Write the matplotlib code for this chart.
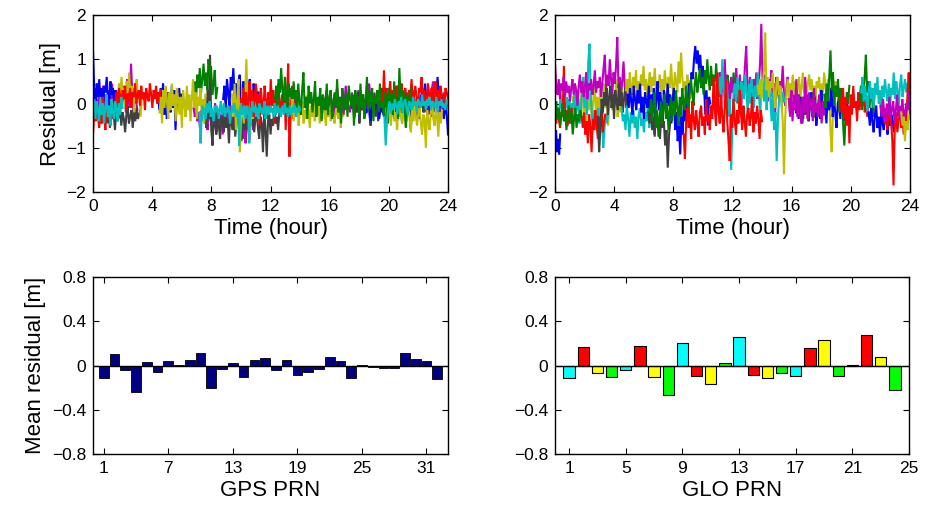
import numpy as np
import matplotlib
matplotlib.use("Agg")
import matplotlib.pyplot as plt

plt.rcParams['font.family'] = ['Liberation Sans', 'DejaVu Sans']

# MATLAB default colour letters
C = {'b': (0, 0, 1), 'g': (0, 0.5, 0), 'r': (1, 0, 0), 'c': (0, 0.75, 0.75),
     'm': (0.75, 0, 0.75), 'y': (0.75, 0.75, 0), 'k': (0.25, 0.25, 0.25)}

# ---------------- GPS residual arcs (hours, colour, residuals in cm) -------------
gps_arc_start = [0.0, 0.8, 1.5, 6.8, 7.4, 6.8, 0.0, 4.4, 8.8, 9.4, 0.0, 4.5, 0.0,
                 10.0, 12.3, 13.4, 15.5, 17.5, 18.5, 19.5, 19.8, 13.7, 7.2, 19.7]
gps_arc_end = [3.0, 3.2, 3.3, 11.0, 12.6, 8.4, 1.6, 6.0, 11.2, 10.9, 4.6, 7.6, 2.0,
               13.7, 13.9, 17.0, 24.0, 22.5, 24.0, 24.0, 23.6, 21.5, 14.0, 24.0]
gps_arc_color = ['m', 'k', 'y', 'm', 'k', 'g', 'b', 'b', 'b', 'y', 'r', 'y', 'c',
                 'r', 'g', 'y', 'm', 'k', 'b', 'r', 'y', 'g', 'c', 'c']
gps_arc_cm = [
    "10 -20 35 5 -15 25 -30 15 40 -5 20 -25 30 10 -10 45 0 -35 20 5 30 -15 25 -5 40 10 -20 55 15 -10 90 20 -25 35 5 -15",
    "-30 -10 -45 -20 -55 -5 -35 -25 -60 -15 -40 -30 -10 -50 -20 -35 -65 -25 -5 -45 -30 -15 -55 -20 -40 -10 -35 -25 -15",
    "10 30 -5 45 20 60 15 35 -10 50 25 70 5 40 20 -20 35 55 10 30 -30 15",
    "-10 -30 5 -40 -20 -55 -15 -35 10 -45 -25 -60 -5 -30 -50 -20 -40 0 -65 -30 -15 -45 -25 -70 -10 -35 -55 -20 -40 -5 -50 -30 -60 -15 40 -35 60 -25 -45 -80 -20 -90 -50 -30 -85 -15 -40 -60 -25 -35",
    "-20 -40 -10 -55 30 -35 110 -60 -95 -25 -45 -70 -15 -50 -80 -30 -40 -65 -10 -55 -35 -90 -20 -45 -60 -25 -75 -40 -15 -55 -30 -85 -45 -20 -60 -35 -10 -70 -40 -50 -25 -65 -35 -15 -55 -80 -30 -45 -110 -20 -60 -120 -40 -25 -70 -35 -50 -15 -45 -30 -60 -20",
    "20 50 10 65 35 80 25 55 90 40 70 30 100 60 85 20 45 75 10 35",
    "120 30 -10 45 15 55 5 35 -20 40 25 60 10 -5 50 20 35 0 30 15",
    "20 -15 35 0 45 -25 15 -35 25 5 -20 40 -10 30 -60 10 -5 35 -15 20",
    "10 40 -15 55 25 -5 60 30 80 15 45 -20 35 65 10 -10 50 20 40 -25 30 55 5 -15 45 15 35 0 25",
    "20 -30 45 -60 10 55 -110 -20 30 -45 15 100 -15 40 -70 25 -35 5",
    "-70 -20 -40 5 -30 -55 -10 -45 15 -25 -60 -5 -35 -15 -50 10 -30 -20 5 25 -10 35 15 -5 30 10 40 -15 20 5 35 -10 25 15 45 0 20 30 -5 40 10 25 -15 35 15 5 45 20 -10 30 10 40 0 25 15 30",
    "-20 15 -45 30 -10 40 5 -35 25 -15 45 -5 20 -40 35 10 -25 15 -55 30 0 -30 40 -15 20 -40 10 55 -10 25 -35 15 -5 35 -25 10 -45 20",
    "-20 10 -35 5 -15 -40 15 -25 0 -45 -10 20 -30 -5 -50 10 -20 -35 5 -15 -40 0 -25 15 -10",
    "10 -20 35 -5 25 -40 15 50 -15 30 -30 5 45 -10 20 -50 35 0 -25 40 10 -35 25 -15 55 -5 30 -45 15 -20 45 5 -30 20 -10 35 -60 10 90 -120 -20 40 -35 15 -10",
    "10 40 -10 55 25 80 30 5 60 20 -15 45 15 35 -5 50 10 30 -20 20",
    "-20 10 -40 -5 -30 15 -50 -10 -25 5 -45 -15 -35 20 -20 -55 -5 -30 10 -40 -15 -25 5 -45 -10 -35 15 -20 -50 0 -30 -15 -40 10 -25 -45 -5 -20 -35 5 -55 -15 -30 -10",
    "10 -15 30 -5 20 -30 5 35 -10 15 -25 40 0 -20 25 -35 10 30 -15 5 -30 20 45 -5 15 -20 30 -10 5 35 -25 10 -15 20 -5 40 -30 15 0 -20 25 -10 30 5 -35 15 -5 35 -20 10 -25 20 50 -10 15 -30 5 25 -15 10",
    "-10 15 -30 5 -20 25 -45 0 -15 20 -35 10 -5 30 -25 -50 5 -15 25 -30 15 -40 0 -20 35 -10 20 -55 -5 10 -25 30 -15 5 -35 20 -10 40 -20 0 -45 15 -5 25 -30 10 -15 -60 5 20 -25 0 15 -35 10 -10 30 -20 5 -15",
    "-20 10 -40 5 -15 25 -35 0 -25 15 -45 -5 20 -30 10 -15 35 -20 5 -40 15 -10 30 -25 0 -35 20 -5 45 -15 10 -30 25 -20 60 -10 15 -35 5 -70",
    "20 -10 75 5 35 -15 25 50 0 30 -20 15 40 -5 25 10 45 -15 20 35 5 -25 30 15 55 -5 20 40 10 -15 35 25 60 0 30 15 -10 45 20 5 35 -20 25 50 10 30 -5 40 15 20 -10 35 25 10",
    "-10 -35 5 -25 -50 -15 10 -40 -20 -60 -5 -30 15 -45 -25 -10 -55 -20 0 -35 -65 -15 -40 5 -30 -50 -20 -10 -45 -70 -25 -35 -100 -15 -40 -60 -20 5 -35 -50 -10 -30 -75 -20 -45 -15",
    "20 -15 45 5 -25 30 70 -10 15 -35 40 0 25 -20 10 50 -30 15 -5 35 -40 20 5 -15 45 -25 10 30 -35 0 25 -10 55 -20 15 -45 35 5 -15 25 -30 40 10 -5 20 -50 30 0 15 -25 45 -10 20 -35 10 60 -15 25 -5 35 -40 15 0 30 -20 45 -10 5 -30 25 10 -45 35 -5 20 -25 50 0 15 -35 80 10 -20 30 -5 -55 20 5 -15 35",
    "-20 -90 -40 -5 -25 -10 -35 0 -20 -15 5 -30 -10 -25 -40 -5 -20 -5 -15 -35 -10 5 -25 -15 0 -30 -10 -20 -5 -15 -45 -25 -5 -20 0 -10 -30 -15 -25 -95 -10 0 -25 -15 -5 -35 -20 -5 -25 -90 -10 -30 5 -15 -20 -5 -30 -10 -35 0 -20 -10 -25 -15 5 -35 -15 -5 -25 -20 -5 -20 -10 -30 0 -25 -15 -5 -20 -10 -30 -15 -5 -25 0 -20 -10 -30 -15 -5 -25 -10 -20 0 -15 -30 -10 -20 -5 -15",
    "-30 -95 -40 -10 5 -20 0 -15 10 -5 -25 5 -10 15 -20 0 10 -10 -25 5 0 -15 15 -5 5 -20 10 0 -10 20 -5 5 -15 10 -5 15 -15 5 0 -10 15 -20 5 -5 10 -10 0 -15 10 0",
]

# ---------------- GLONASS residual arcs ----------------
glo_arc_start = [1.2, 0.3, 0.0, 1.8, 0.0, 0.0, 0.0, 2.9, 4.8, 4.5, 4.9, 6.3, 6.4, 10.8,
                 10.8, 8.7, 13.7, 16.3, 16.6, 15.8, 18.2, 19.3, 20.6, 20.7, 21.2, 22.2, 22.0, 23.4]
glo_arc_end = [4.6, 3.6, 1.2, 3.4, 1.8, 0.35, 4.8, 5.0, 9.2, 6.9, 10.5, 7.8, 12.5, 16.5,
               15.5, 14.0, 19.3, 19.8, 17.5, 18.2, 19.9, 21.2, 21.6, 24.0, 23.0, 24.0, 24.0, 24.0]
glo_arc_color = ['y', 'c', 'r', 'r', 'g', 'b', 'm', 'k', 'y', 'c', 'b', 'k', 'g', 'm',
                 'c', 'r', 'y', 'b', 'k', 'm', 'g', 'r', 'g', 'c', 'b', 'r', 'm', 'y']
glo_arc_cm = [
    "15 -20 40 -10 25 -35 5 50 -25 20 -45 10 -15 35 -30 0 60 -20 15 -40 30 5 -25 45 -10 20 -50 10 35 -15 25 -5 55 -30 15 -20 40 0",
    "-10 20 -25 5 -35 -5 15 -20 10 -40 0 -15 25 -30 -5 10 -45 -20 30 60 -10 45 -25 90 135 20 -30 -50 -15 -60 -35 -10 -70 -40 -20 -100 -55 -25 -45 -15",
    "-25 -45 -10 -35 -55 -20 -30 85 -40 -15 -50 -25 -35 -10 -30",
    "-30 -55 -20 -70 -40 -90 -25 -50 -110 -35 -60 -15 -45 -80 -30 -50 -20 -65 -40 -25",
    "-20 5 -35 -10 -50 -25 0 -40 -15 -60 -30 -5 -45 -20 -70 -35 -10 -55 -25 -40 -15 -30",
    "-95 -60 -110 -80 -115 -70",
    "90 40 20 55 10 45 30 60 15 50 25 40 5 35 55 20 45 30 -5 40 65 25 50 15 35 70 10 45 30 55 20 40 75 25 50 35 60 15 45 80 110 30 65 40 100 55 20 70 45 85 150 35 60 25 50 95 40 20",
    "-30 -110 -60 10 -20 25 -5 35 -25 15 40 -10 20 -35 30 5 -15 45 -5 25 -20 10 35 -10 15 0",
    "30 55 15 70 40 20 60 35 75 10 50 25 65 40 85 30 55 15 45 70 25 60 40 80 20 50 35 65 10 55 30 75 45 20 60 35 90 40 15 70 50 25 95 45 115 60 30 50 20 65 40 10 55",
    "-10 -40 -25 -60 -5 -35 -75 -20 -45 -15 -55 -30 -80 -25 -10 -50 -35 -65 -20 -40 -5 -55 -30 -15 -45 -70 -25 -35",
    "20 -10 35 5 -25 40 10 -15 30 0 45 -20 15 -35 25 5 -10 40 -25 20 -5 35 -30 10 50 -15 25 0 -40 30 15 -20 45 -5 20 -45 10 35 -60 -20 -85 -50 -115 -30 -70 10 -40 20 -10 45 30 70 55 100 130 90 120 75 110 60 85 40 -25 30 -50 15 0",
    "-20 -45 -10 -60 -30 -75 -15 -50 -35 -80 -25 -55 -40 -95 -60 -145 -70 -40",
    "-20 10 -40 -5 25 -55 -15 -75 -30 5 -45 -10 20 -35 0 -60 -20 15 -40 5 -25 30 -10 -50 15 -30 35 0 -15 40 10 -25 30 55 20 -5 45 70 25 50 80 35 60 20 75 45 100 55 30 85 40 65 25 90 50 15 70 35 60 80 40 25 65 45 10 55 30 70 20 50 0 40 25",
    "40 10 55 25 70 -5 45 30 100 15 50 35 -10 60 25 45 5 80 40 20 65 -15 50 30 85 130 40 15 60 35 -20 55 25 70 10 45 90 180 50 20 65 35 5 55 40 75 15 45 -25 60 30 10 50 35 85 20 -5 40 60 15 -30 25 45 0 35 -15 20 5",
    "20 50 -10 35 60 15 100 40 -5 55 25 -30 10 -150 -40 30 45 5 60 20 -15 50 35 10 65 25 -20 45 0 55 30 -10 40 15 70 20 -25 50 35 5 60 -15 30 45 10 -40 25 -60 -20 -130 -35 15 40 -10 25 5",
    "-70 -125 -40 -10 -55 -25 -80 5 -35 -60 -15 -45 -75 -20 -5 -50 -30 -70 10 -40 -25 -60 -5 -35 60 -15 -50 70 -20 -45 20 -30 -65 -10 55 -40 -85 -130 -25 -55 10 -35 -70 -15 -45 30 -20 -60 -5 -40 -75 -25 -10 -50 -30 15 -65 -20 -45 -5 -35 -80 -15 -40",
    "40 20 55 10 45 75 160 30 60 15 50 35 70 25 -10 45 60 20 40 5 -40 -160 -30 25 55 10 45 30 65 20 50 -5 40 60 15 35 70 25 50 10 45 65 30 55 20 40 -10 50 35 60 15 45 25 70 40 5 55 30 -60 -110 -20 35 50 15 40 25 10",
    "-20 10 -35 15 -10 -45 5 -25 20 -15 -40 0 25 -30 -5 15 -50 -20 10 -35 30 -10 -25 5 -45 20 -15 -5 35 -30 10 -20 -55 0 15 -35 25 -10 -40 5 -25 10",
    "-20 15 -35 10 -25 20 -40 5 -15 25 -30",
    "10 -25 30 -40 5 -15 55 -30 20 -10 -45 15 -20 60 -5 -35 25 -15 10 -40 35 -20 0 -30 20 -10 -45 5 -25",
    "20 -10 45 5 60 120 30 70 -5 40 15 55 -20 35 10 -45 -95 -30 25 0 40",
    "10 -20 35 -35 15 -50 -5 -90 20 -25 40 -10 5 -40 25 -15 30 -5 45 -20 10 -30 15",
    "10 40 -15 30 60 110 25 50 -10 35 15 -30 20",
    "25 60 5 40 15 -20 30 50 10 35 -10 45 20 60 0 30 -25 40 15 55 25 5 45 -15 35 20 70 10 50 30 -5 40 65 15 35 55 25 45 10 30",
    "-20 -50 -10 -40 -65 -25 -5 -55 -30 -75 -15 -45 -60 -20 -35 -70 -10 -50 -25 -40 -65 -30",
    "-20 -45 -10 -60 -30 -5 -40 -80 -185 -50 -20 -65 -35 -10 -55 -25 -70 -15 -40 20 70 -30",
    "-5 -30 10 -20 -40 0 -25 15 -35 -10 5 -45 -15 20 -30 -5 -40 10 -20 -35 0 -15 25 -25",
    "-20 -50 -30 -85 -40 -60 -25 -35",
]

# ---------------- mean residual per PRN ----------------
gps_prn = list(range(1, 33))
gps_mean = [-0.11, 0.10, -0.04, -0.24, 0.03, -0.055, 0.04, 0.005, 0.05, 0.11, -0.20, -0.035,
            0.02, -0.105, 0.05, 0.07, -0.04, 0.05, -0.09, -0.055, -0.035, 0.08, 0.045, -0.11,
            0.003, -0.01, -0.02, -0.02, 0.11, 0.06, 0.045, -0.12]
glo_prn = list(range(1, 25))
glo_mean = [-0.11, 0.17, -0.07, -0.10, -0.04, 0.18, -0.10, -0.27, 0.20, -0.095, -0.165, 0.02,
            0.26, -0.085, -0.11, -0.07, -0.095, 0.16, 0.23, -0.095, 0.003, 0.28, 0.08, -0.22]
glo_bar_colors = ['#00ffff', '#ff0000', '#ffff00', '#00ff00']

time_ticks = [0, 4, 8, 12, 16, 20, 24]
res_ticks = [-2, -1, 0, 1, 2]
mean_ticks = [-0.8, -0.4, 0, 0.4, 0.8]
mean_ticklabels = ['\u22120.8', '\u22120.4', '0', '0.4', '0.8']
gps_xticks = [1, 7, 13, 19, 25, 31]
glo_xticks = [1, 5, 9, 13, 17, 21, 25]

W, H = 935, 517
fig = plt.figure(figsize=(W / 100, H / 100), dpi=100)


def px_axes(x0, y0, x1, y1):
    return fig.add_axes([x0 / W, 1 - y1 / H, (x1 - x0) / W, (y1 - y0) / H])


ax_tl = px_axes(93, 15, 448, 192)
ax_tr = px_axes(555, 15, 910, 192)
ax_bl = px_axes(93, 277, 448, 454)
ax_br = px_axes(555, 277, 909, 454)

TICK_FS = 12.5
LAB_FS = 16


def style(ax):
    ax.tick_params(direction='in', top=True, right=True, length=4, width=0.8,
                   labelsize=TICK_FS, pad=5)
    for s in ax.spines.values():
        s.set_linewidth(1.0)
        s.set_zorder(5)


def draw_arcs(ax, starts, ends, colors, cms):
    for s, e, c, txt in zip(starts, ends, colors, cms):
        vals = np.array(txt.split(), float) / 100.0
        t = np.linspace(s, e, len(vals))
        ax.plot(t, vals, color=C[c], lw=1.5, solid_joinstyle='miter')


for ax, data in [(ax_tl, (gps_arc_start, gps_arc_end, gps_arc_color, gps_arc_cm)),
                 (ax_tr, (glo_arc_start, glo_arc_end, glo_arc_color, glo_arc_cm))]:
    draw_arcs(ax, *data)
    ax.set_xlim(0, 24)
    ax.set_ylim(-2, 2)
    ax.set_xticks(time_ticks)
    ax.set_yticks(res_ticks)
    ax.set_xlabel('Time (hour)', fontsize=LAB_FS, labelpad=3)
    style(ax)
ax_tl.set_ylabel('Residual [m]', fontsize=LAB_FS, labelpad=4)

# bar charts
ax_bl.bar(gps_prn, gps_mean, width=0.9, color=(0, 0, 0.5), edgecolor='k', linewidth=0.6, zorder=2)
ax_bl.axhline(0, color='k', lw=1.0, zorder=3)
ax_bl.set_xlim(0, 33)
ax_bl.set_xticks(gps_xticks)
ax_bl.set_xlabel('GPS PRN', fontsize=LAB_FS, labelpad=3)
ax_bl.set_ylabel('Mean residual [m]', fontsize=LAB_FS, labelpad=4)

bar_cols = [glo_bar_colors[i % 4] for i in range(len(glo_prn))]
ax_br.bar(glo_prn, glo_mean, width=0.8, color=bar_cols, edgecolor='k', linewidth=0.8, zorder=2)
ax_br.axhline(0, color='k', lw=1.0, zorder=3)
ax_br.set_xlim(0, 25)
ax_br.set_xticks(glo_xticks)
ax_br.set_xlabel('GLO PRN', fontsize=LAB_FS, labelpad=3)

for ax in (ax_bl, ax_br):
    ax.set_ylim(-0.8, 0.8)
    ax.set_yticks(mean_ticks)
    ax.set_yticklabels(mean_ticklabels)
    style(ax)

fig.savefig('out.png', dpi=100)
